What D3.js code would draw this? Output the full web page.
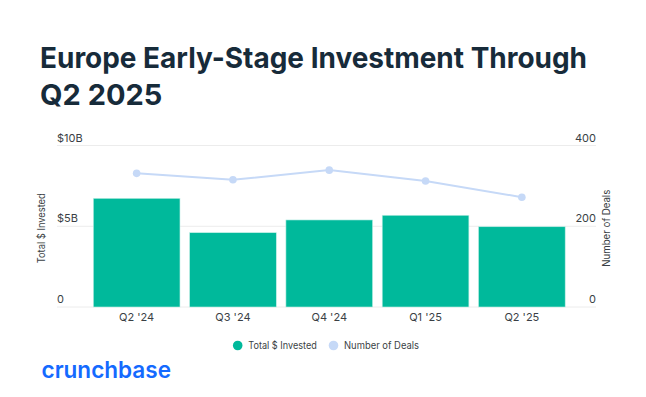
<!DOCTYPE html>
<html>
<head>
<meta charset="utf-8">
<script src="https://cdn.jsdelivr.net/npm/d3@7"></script>
<style>
  html, body { margin: 0; padding: 0; background: #fff; }
  svg { display: block; }
</style>
</head>
<body>
<svg id="chart" width="646" height="397"></svg>
<script>
const categories = ["Q2 '24", "Q3 '24", "Q4 '24", "Q1 '25", "Q2 '25"];
const investedB = [6.73, 4.6, 5.39, 5.68, 4.97];
const deals = [331, 315, 339, 312, 272];
const leftTicks = [0, 5, 10];
const leftTickLabels = ["0", "$5B", "$10B"];
const rightTicks = [0, 200, 400];
const titleLines = ["Europe Early-Stage Investment Through", "Q2 2025"];
const seriesNames = ["Total $ Invested", "Number of Deals"];

const barColor = "#00b99b";
const lineColor = "#c6d9f7";
const textColor = "#3a3f45";
const font = "Inter, 'Open Sans', sans-serif";

const svg = d3.select("#chart");

// Title
svg.append("g").selectAll("text").data(titleLines).join("text")
  .attr("x", 40)
  .attr("y", (d, i) => 67.5 + i * 37.5)
  .attr("fill", "#172b3a")
  .attr("font-family", font)
  .attr("font-weight", 700)
  .attr("font-size", 29)
  .attr("textLength", (d, i) => i === 0 ? 547 : null)
  .attr("lengthAdjust", "spacingAndGlyphs")
  .text(d => d);

const plotLeft = 57, plotRight = 596, plotTop = 145.5, plotBottom = 307;

const x = d3.scaleBand().domain(categories).range([88.5, 570]).paddingInner(0.1).paddingOuter(0.05);
const yL = d3.scaleLinear().domain([0, 10]).range([plotBottom, plotTop]);
const yR = d3.scaleLinear().domain([0, 400]).range([plotBottom, plotTop]);

// Gridlines
svg.append("g").selectAll("line").data(leftTicks).join("line")
  .attr("x1", plotLeft).attr("x2", plotRight)
  .attr("y1", d => yL(d)).attr("y2", d => yL(d))
  .attr("stroke", "#ececec").attr("stroke-width", 1);

// Left tick labels
svg.append("g").selectAll("text").data(leftTicks).join("text")
  .attr("x", plotLeft)
  .attr("y", d => yL(d) - 4)
  .attr("fill", textColor)
  .attr("font-family", font)
  .attr("font-size", 11)
  .text((d, i) => leftTickLabels[i]);

// Right tick labels
svg.append("g").selectAll("text").data(rightTicks).join("text")
  .attr("x", plotRight)
  .attr("y", d => yR(d) - 4)
  .attr("text-anchor", "end")
  .attr("fill", textColor)
  .attr("font-family", font)
  .attr("font-size", 11)
  .text(d => d);

// Axis titles
svg.append("text")
  .attr("transform", `translate(45,${(plotTop + plotBottom) / 2 + 2}) rotate(-90)`)
  .attr("text-anchor", "middle")
  .attr("fill", textColor)
  .attr("font-family", font)
  .attr("font-size", 10)
  .attr("textLength", 70)
  .attr("lengthAdjust", "spacingAndGlyphs")
  .text("Total $ Invested");
svg.append("text")
  .attr("transform", `translate(610,${(plotTop + plotBottom) / 2 + 2}) rotate(-90)`)
  .attr("text-anchor", "middle")
  .attr("fill", textColor)
  .attr("font-family", font)
  .attr("font-size", 10)
  .attr("textLength", 77)
  .attr("lengthAdjust", "spacingAndGlyphs")
  .text("Number of Deals");

// Bars
svg.append("g").selectAll("rect").data(categories).join("rect")
  .attr("x", d => x(d))
  .attr("width", x.bandwidth())
  .attr("y", (d, i) => yL(investedB[i]))
  .attr("height", (d, i) => plotBottom - yL(investedB[i]))
  .attr("fill", barColor)
  .attr("stroke", "#bfeee5")
  .attr("stroke-width", 0.6);

// X labels
svg.append("g").selectAll("text").data(categories).join("text")
  .attr("x", d => x(d) + x.bandwidth() / 2)
  .attr("y", 321)
  .attr("text-anchor", "middle")
  .attr("fill", textColor)
  .attr("font-family", font)
  .attr("font-size", 11)
  .text(d => d);

// Line
const line = d3.line()
  .x((d, i) => x(categories[i]) + x.bandwidth() / 2)
  .y(d => yR(d));
svg.append("path").datum(deals)
  .attr("d", line)
  .attr("fill", "none")
  .attr("stroke", lineColor)
  .attr("stroke-width", 2);
svg.append("g").selectAll("circle").data(deals).join("circle")
  .attr("cx", (d, i) => x(categories[i]) + x.bandwidth() / 2)
  .attr("cy", d => yR(d))
  .attr("r", 3.8)
  .attr("fill", lineColor);

// Legend
const legend = [
  { name: seriesNames[0], color: barColor, cx: 237.7, tx: 248.3, w: 68.5 },
  { name: seriesNames[1], color: lineColor, cx: 333.5, tx: 344, w: 75 }
];
const lg = svg.append("g");
lg.selectAll("circle").data(legend).join("circle")
  .attr("cx", d => d.cx).attr("cy", 345.5).attr("r", 4.8)
  .attr("fill", d => d.color);
lg.selectAll("text").data(legend).join("text")
  .attr("x", d => d.tx).attr("y", 349)
  .attr("fill", textColor)
  .attr("font-family", font)
  .attr("font-size", 10)
  .attr("textLength", d => d.w)
  .attr("lengthAdjust", "spacingAndGlyphs")
  .text(d => d.name);

// Logo
svg.append("text")
  .attr("x", 41.5).attr("y", 378)
  .attr("fill", "#146aff")
  .attr("font-family", "Inter, Lato, sans-serif")
  .attr("font-weight", 600)
  .attr("font-size", 23)
  .attr("textLength", 129.5)
  .attr("lengthAdjust", "spacingAndGlyphs")
  .text("crunchbase");
</script>
</body>
</html>
